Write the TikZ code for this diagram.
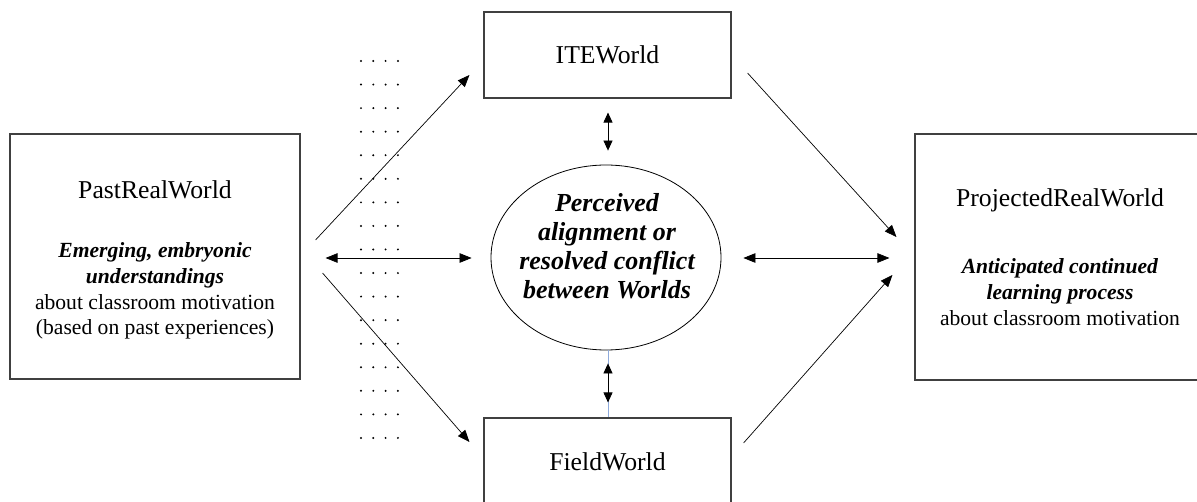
\documentclass[tikz,border=0pt]{standalone}
\usepackage{fontspec}
\setmainfont{Liberation Serif}
\usetikzlibrary{shapes.geometric,arrows.meta,calc}
\definecolor{boxline}{HTML}{404040}
\definecolor{linkblue}{HTML}{8EAADB}
\tikzset{
  world/.style={draw=boxline,line width=1.1pt,inner sep=0pt},
  worldtitle/.style={inner sep=0pt,font=\fontsize{25.7}{30}\selectfont},
  worldbody/.style={inner sep=0pt,align=center,font=\fontsize{21.6}{25.7}\selectfont},
  hub/.style={draw,ellipse,line width=0.8pt,inner sep=0pt,minimum width=230pt,minimum height=185pt},
  hubtext/.style={inner sep=0pt,align=center,font=\fontsize{26}{29}\selectfont\bfseries\itshape},
  flow/.style={line width=0.7pt,-{Triangle[length=12pt,width=9.5pt]}},
  twoway/.style={line width=0.7pt,{Triangle[length=12pt,width=9.5pt]}-{Triangle[length=12pt,width=9.5pt]}},
  shortway/.style={line width=0.7pt,{Triangle[length=10pt,width=9pt]}-{Triangle[length=10pt,width=9pt]}},
}
\begin{document}
\begin{tikzpicture}[x=1pt,y=-1pt]
\useasboundingbox (0,0) rectangle (1197,502);

% the four worlds
\node[world,minimum width=290pt,minimum height=245pt] (past) at (155,256.5) {};
\node[world,minimum width=247pt,minimum height=86pt] (ite) at (607.5,55) {};
\node[world,minimum width=247pt,minimum height=88pt] (field) at (607.5,462) {};
\node[world,minimum width=290pt,minimum height=246pt] (proj) at (1060,257) {};

\node[worldtitle] (pasttitle) at (155,190) {PastRealWorld};
\node[worldbody] (pastbody) at (155,291) {\textbf{\textit{Emerging, embryonic}}\\\textbf{\textit{understandings}}\\about classroom motivation\\(based on past experiences)};
\node[worldtitle] (itetitle) at (607.5,55) {ITEWorld};
\node[worldtitle] (fieldtitle) at (607.5,462) {FieldWorld};
\node[worldtitle] (projtitle) at (1060,200) {ProjectedRealWorld};
\node[worldbody] (projbody) at (1060,292) {\textbf{\textit{Anticipated continued}}\\\textbf{\textit{learning process}}\\about classroom motivation};

% central ellipse and its text
\node[hub] (hub) at (606,257.5) {};
\node[hubtext] (hubtext) at (607,246.5) {Perceived\\alignment or\\resolved conflict\\between Worlds};

% dotted band
\foreach \r in {0,...,16}{
  \foreach \c in {0,...,3}{
    \fill ({361+12.3*\c},{61+23.56*\r}) circle (1.1pt);
  }
}

% connectors
\draw[flow] ($(past.east)+(15,-16.5)$) -- ($(ite.west)+(-14,20)$);
\draw[flow] ($(past.east)+(22,16.5)$) -- ($(field.west)+(-14,-20)$);
\draw[twoway] ($(past.east)+(25,1.5)$) -- ($(hub.west)+(-19,0.5)$);
\draw[flow] ($(ite.east)+(16,18)$) -- ($(proj.west)+(-18,-20)$);
\draw[flow] ($(field.east)+(12,-19)$) -- ($(proj.west)+(-22,18)$);
\draw[twoway] ($(hub.east)+(22,0.5)$) -- ($(proj.west)+(-25,1)$);
\draw[shortway] ($(ite.south)+(0.5,14)$) -- ($(hub.north)+(2,-14)$);
\draw[linkblue,line width=0.8pt] ([xshift=2pt]hub.south) -- ([xshift=0.5pt]field.north);
\draw[shortway] ($(hub.south)+(2,13)$) -- ($(field.north)+(0.5,-15)$);
\end{tikzpicture}
\end{document}
